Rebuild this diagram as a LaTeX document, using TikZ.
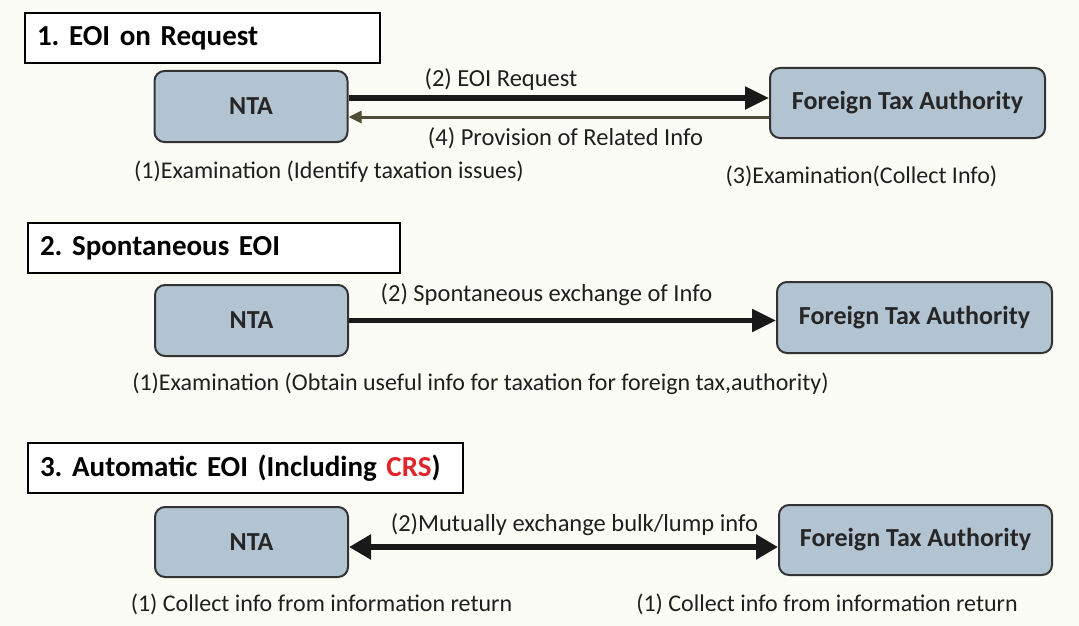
\documentclass[tikz,border=0pt]{standalone}
\usepackage{fontspec}
\setmainfont{Carlito}
\usetikzlibrary{arrows.meta}
\frenchspacing
\definecolor{bg}{HTML}{FCFCF6}
\definecolor{boxfill}{HTML}{B2C3D1}
\definecolor{boxedge}{HTML}{333333}
\definecolor{olive}{HTML}{4E4E38}
\definecolor{crsred}{HTML}{E0262B}
\tikzset{
  titlebox/.style={draw=black, line width=1.6pt, fill=white, minimum height=50pt, inner xsep=12pt, align=left, font=\fontsize{29}{34}\selectfont\bfseries},
  agency/.style={draw=boxedge, line width=2pt, rounded corners=10pt, fill=boxfill, font=\fontsize{26}{30}\selectfont\bfseries, text=black!85},
  lbl/.style={font=\fontsize{24}{28}\selectfont, text=black!88, inner sep=0pt},
  albl/.style={font=\fontsize{24.5}{28}\selectfont, text=black!88, inner sep=0pt},
  bigarrow/.style={line width=5.5pt, draw=black!90, -{Triangle[length=24pt,width=22pt]}},
  thinarrow/.style={line width=3pt, draw=olive, -{Triangle[length=13pt,width=12pt]}},
  dblarrow/.style={line width=5.5pt, draw=black!90, {Triangle[length=22pt,width=24pt]}-{Triangle[length=22pt,width=24pt]}}
}
\begin{document}
\begin{tikzpicture}[x=1pt,y=-1pt]
\path[fill=bg, use as bounding box] (0,0) rectangle (1079,626);

% Section 1
\node[titlebox, text width=331pt] (t1) at (202.5,38) {1. EOI on Request};
\node[agency, minimum width=193pt, minimum height=71pt] (nta1) at (251,106.5) {NTA};
\node[agency, minimum width=275pt, minimum height=70pt] (fta1) at (907.5,103) {Foreign Tax Authority};
\coordinate (a1s) at ([yshift=8.5pt]nta1.east);
\coordinate (a4s) at ([yshift=-14pt]fta1.west);
\draw[bigarrow] (a1s) -- (fta1.west |- a1s);
\draw[thinarrow] (a4s) -- (nta1.east |- a4s);
\node[albl] (l12) at (501,80) {(2) EOI Request};
\node[albl] (l14) at (565.5,138) {(4) Provision of Related Info};
\node[lbl] (l11) at (329,172) {(1)Examination (Identify taxation issues)};
\node[lbl] (l13) at (861.5,176) {(3)Examination(Collect Info)};

% Section 2
\node[titlebox, text width=348pt] (t2) at (214,248) {2. Spontaneous EOI};
\node[agency, minimum width=193pt, minimum height=71pt] (nta2) at (251.5,320.5) {NTA};
\node[agency, minimum width=275pt, minimum height=71pt] (fta2) at (914.5,317.5) {Foreign Tax Authority};
\draw[bigarrow] (nta2.east) -- (fta2.west |- nta2.east);
\node[albl] (l22) at (546.5,295) {(2) Spontaneous exchange of Info};
\node[lbl] (l21) at (480.5,384) {(1)Examination (Obtain useful info for taxation for foreign tax,authority)};

% Section 3
\node[titlebox, text width=411pt] (t3) at (245.5,468) {3. Automatic EOI (Including \textcolor{crsred}{CRS})};
\node[agency, minimum width=193pt, minimum height=70pt] (nta3) at (251.5,542) {NTA};
\node[agency, minimum width=273pt, minimum height=70pt] (fta3) at (915.5,540) {Foreign Tax Authority};
\coordinate (a3s) at ([yshift=-5pt]nta3.east);
\draw[dblarrow] (a3s) -- (fta3.west |- a3s);
\node[albl] (l32) at (574.5,525) {(2)Mutually exchange bulk/lump info};
\node[lbl] (l31) at (321.5,604) {(1) Collect info from information return};
\node[lbl] (l33) at (827,604) {(1) Collect info from information return};
\end{tikzpicture}
\end{document}
